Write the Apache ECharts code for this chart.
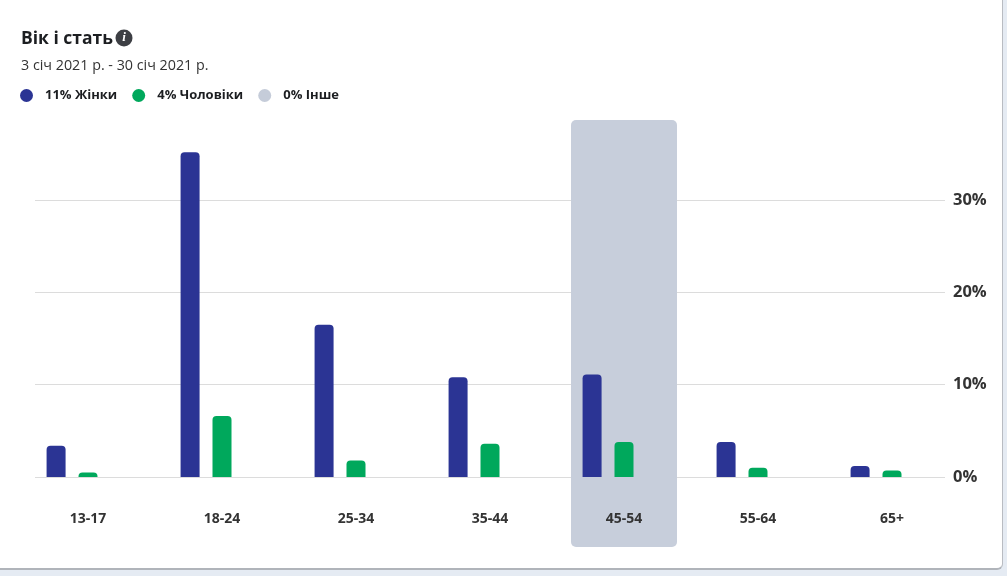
<!DOCTYPE html>
<html>
<head>
<meta charset="utf-8">
<script src="https://cdn.jsdelivr.net/npm/echarts@6/dist/echarts.min.js"></script>
<style>
  html, body { margin: 0; padding: 0; background: #e5ebf3; }
  #card { position: absolute; left: 0; top: 0; width: 1002px; height: 568px; background: #fff;
          border-right: 1px solid #b9bcc2; border-bottom: 2px solid #b0b4ba; border-bottom-right-radius: 6px; }
  #chart { width: 1007px; height: 576px; position: absolute; left: 0; top: 0; }
</style>
</head>
<body>
<div id="card"></div>
<div id="chart"></div>
<script>
const categories = ['13-17', '18-24', '25-34', '35-44', '45-54', '55-64', '65+'];
const women = [3.4, 35.2, 16.5, 10.8, 11.1, 3.8, 1.2];
const men = [0.5, 6.6, 1.8, 3.6, 3.8, 1.0, 0.7];
const other = [0, 0, 0, 0, 0, 0, 0];
const highlight = [0, 0, 0, 0, 1, 0, 0];
const seriesNames = ['Жінки', 'Чоловіки', 'Інше'];
const legendPct = ['11%', '4%', '0%'];
const yTicks = [0, 10, 20, 30];

const FONT = '"Open Sans", "Noto Sans", sans-serif';
const chart = echarts.init(document.getElementById('chart'), null, { renderer: 'canvas' });

const option = {
  animation: false,
  backgroundColor: 'transparent',
  textStyle: { fontFamily: FONT },
  title: {
    text: 'Вік і стать',
    subtext: '3 січ 2021 р. - 30 січ 2021 р.',
    left: 16, top: 25, itemGap: 11,
    textStyle: { fontSize: 17.5, fontWeight: 'bold', color: '#1c1e21', fontFamily: FONT },
    subtextStyle: { fontSize: 14.3, color: '#333', fontFamily: FONT }
  },
  legend: {
    left: 15, top: 84,
    icon: 'circle', itemWidth: 13, itemHeight: 13, itemGap: 15,
    data: seriesNames,
    formatter: function (name) { return legendPct[seriesNames.indexOf(name)] + ' ' + name; },
    textStyle: { fontSize: 13, fontWeight: 'bold', color: '#1c1e21', fontFamily: FONT, padding: [0, 0, 0, 7] }
  },
  graphic: [
    { type: 'circle', shape: { cx: 124, cy: 38, r: 8.5 }, style: { fill: '#3d3f44' }, silent: true },
    { type: 'text', x: 124, y: 38, style: { text: 'i', fill: '#fff', font: 'italic bold 13px serif', align: 'center', verticalAlign: 'middle' }, silent: true }
  ],
  grid: [
    { left: 21, right: 48, top: 108, bottom: 99 },
    { left: 21, right: 48, top: 120, bottom: 29 },
    { left: 35, right: 62, top: 200, bottom: 99 }
  ],
  xAxis: [
    { type: 'category', gridIndex: 0, data: categories,
      axisLine: { show: false }, axisTick: { show: false },
      axisLabel: { margin: 35, fontSize: 14, fontWeight: 'bold', color: '#333', fontFamily: FONT } },
    { type: 'category', gridIndex: 1, data: categories, show: false },
    { type: 'value', gridIndex: 2, show: false, min: 0, max: 1 }
  ],
  yAxis: [
    { type: 'value', gridIndex: 0, min: 0, max: 40, show: false },
    { type: 'value', gridIndex: 1, min: 0, max: 1, show: false },
    { type: 'value', gridIndex: 2, min: 0, max: 30, interval: 10, position: 'right',
      axisLine: { show: false }, axisTick: { show: false },
      splitLine: { lineStyle: { color: '#dcdcdc', width: 1 } },
      axisLabel: { margin: 8, fontSize: 16.5, fontWeight: 'bold', color: '#333', fontFamily: FONT,
        formatter: function (v) { return yTicks.indexOf(v) >= 0 ? v + '%' : ''; } } }
  ],
  series: [
    { type: 'bar', name: 'highlight', xAxisIndex: 1, yAxisIndex: 1, data: highlight, barWidth: 106,
      itemStyle: { color: '#c7cedb', borderRadius: 5 }, z: 0, silent: true },
    { type: 'bar', name: seriesNames[0], xAxisIndex: 0, yAxisIndex: 0, data: women, barWidth: 19, barGap: '68%',
      itemStyle: { color: '#2b3494', borderRadius: [4, 4, 0, 0] }, z: 3 },
    { type: 'bar', name: seriesNames[1], xAxisIndex: 0, yAxisIndex: 0, data: men, barWidth: 19, barGap: '68%',
      itemStyle: { color: '#00a85c', borderRadius: [4, 4, 0, 0] }, z: 3 },
    { type: 'bar', name: seriesNames[2], xAxisIndex: 0, yAxisIndex: 0, data: other, barWidth: 19, barGap: '68%',
      itemStyle: { color: '#c5ccd9', borderRadius: [4, 4, 0, 0] }, z: 3 }
  ]
};
chart.setOption(option);
</script>
</body>
</html>
